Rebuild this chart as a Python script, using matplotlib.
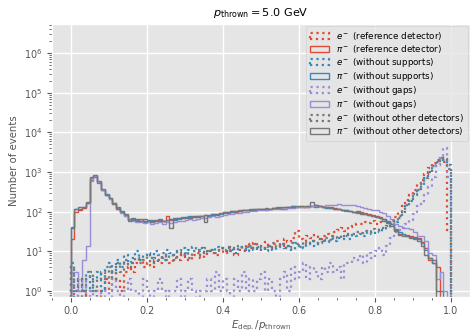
import numpy as np
import matplotlib
matplotlib.use("Agg")
import matplotlib.pyplot as plt

# Histogram binning of E_dep / p_thrown
bin_edges = np.linspace(0.0, 1.0, 101)

configs = ["reference detector", "without supports", "without gaps", "without other detectors"]
colors = ["#E24A33", "#348ABD", "#988ED5", "#777777"]

# Electron counts per bin
e_ref = [1, 0, 1, 1, 0, 1, 1, 0, 1, 2,
         1, 3, 2, 1, 3, 4, 3, 5, 6, 4,
         5, 4, 6, 5, 7, 6, 5, 7, 6, 8,
         7, 6, 8, 9, 7, 8, 10, 9, 8, 11,
         9, 10, 12, 8, 11, 10, 15, 12, 16, 14,
         12, 17, 13, 15, 18, 14, 20, 17, 22, 32,
         20, 18, 24, 22, 26, 20, 24, 28, 25, 30,
         34, 38, 32, 42, 45, 50, 48, 55, 52, 58,
         50, 55, 60, 52, 58, 75, 100, 140, 195, 260,
         360, 500, 650, 900, 1300, 1700, 2000, 2200, 1800, 35]
e_sup = [5, 0, 2, 1, 3, 1, 2, 3, 1, 4,
         5, 3, 6, 4, 8, 5, 7, 10, 6, 8,
         9, 7, 10, 8, 6, 11, 9, 8, 10, 12,
         9, 11, 13, 10, 12, 9, 11, 10, 13, 12,
         10, 12, 11, 9, 13, 12, 10, 14, 11, 13,
         12, 10, 14, 11, 13, 15, 12, 14, 11, 16,
         14, 12, 15, 18, 14, 16, 19, 17, 20, 18,
         22, 20, 24, 21, 26, 24, 28, 25, 30, 27,
         32, 30, 35, 38, 45, 55, 70, 95, 140, 190,
         260, 360, 480, 700, 1000, 1400, 1800, 2200, 2000, 1500]
e_gaps = [2, 1, 0, 2, 0, 1, 0, 1, 0, 1,
          0, 2, 1, 0, 1, 2, 1, 1, 0, 2,
          1, 0, 1, 2, 1, 0, 1, 1, 2, 0,
          1, 2, 1, 0, 1, 1, 2, 1, 3, 1,
          2, 1, 0, 2, 1, 3, 1, 2, 1, 2,
          3, 1, 2, 1, 0, 2, 3, 1, 4, 2,
          3, 5, 2, 4, 3, 2, 4, 3, 5, 3,
          4, 2, 5, 5, 7, 6, 8, 5, 9, 7,
          10, 12, 8, 14, 22, 30, 35, 38, 50, 62,
          90, 140, 160, 260, 420, 750, 1500, 2600, 4000, 750]
e_noother = [4, 1, 2, 0, 2, 3, 1, 2, 3, 2,
             4, 2, 5, 3, 6, 4, 5, 7, 5, 6,
             8, 5, 7, 6, 9, 7, 8, 6, 10, 8,
             9, 7, 10, 11, 8, 12, 10, 11, 9, 12,
             11, 13, 10, 12, 14, 11, 13, 12, 15, 13,
             11, 14, 12, 16, 13, 15, 14, 12, 16, 15,
             13, 17, 15, 18, 16, 20, 18, 22, 19, 24,
             22, 26, 24, 28, 27, 30, 29, 33, 31, 36,
             34, 38, 40, 45, 50, 60, 80, 110, 150, 210,
             280, 380, 520, 720, 1000, 1400, 1900, 2300, 2100, 1200]

# Pion counts per bin
pi_ref = [20, 100, 110, 125, 170, 650, 800, 560, 360, 270,
          220, 170, 125, 100, 85, 62, 66, 60, 64, 58,
          60, 58, 62, 58, 60, 80, 62, 66, 70, 68,
          72, 75, 78, 74, 80, 82, 78, 88, 85, 92,
          100, 95, 102, 98, 104, 108, 112, 110, 115, 118,
          120, 112, 118, 125, 122, 120, 130, 128, 140, 135,
          138, 130, 135, 140, 150, 138, 135, 128, 130, 122,
          118, 112, 110, 105, 100, 102, 96, 92, 88, 82,
          78, 72, 65, 58, 50, 34, 28, 27, 26, 24,
          23, 22, 17, 12, 6, 5, 4, 0, 0, 0]
pi_sup = [40, 120, 135, 128, 165, 720, 760, 540, 350, 280,
          215, 165, 128, 98, 80, 64, 62, 65, 60, 56,
          58, 62, 60, 64, 58, 62, 66, 62, 68, 72,
          70, 76, 74, 78, 76, 84, 80, 86, 90, 88,
          95, 100, 98, 106, 102, 110, 108, 114, 112, 118,
          115, 120, 118, 122, 128, 125, 120, 132, 138, 130,
          135, 128, 140, 136, 132, 140, 130, 126, 124, 118,
          115, 110, 108, 102, 98, 95, 92, 88, 84, 80,
          75, 70, 64, 56, 48, 36, 30, 28, 25, 23,
          22, 20, 16, 11, 7, 5, 1, 1, 0, 0]
pi_gaps = [3, 3, 1, 6, 14, 600, 780, 560, 360, 260,
           210, 160, 120, 95, 78, 62, 58, 55, 56, 52,
           54, 50, 52, 55, 50, 54, 52, 56, 58, 60,
           62, 64, 62, 66, 70, 68, 72, 76, 74, 80,
           84, 88, 90, 94, 92, 98, 100, 104, 102, 108,
           110, 112, 116, 114, 120, 122, 118, 126, 124, 130,
           128, 132, 130, 138, 136, 142, 140, 145, 150, 148,
           155, 152, 150, 148, 145, 140, 132, 125, 118, 112,
           108, 100, 92, 80, 65, 50, 44, 40, 38, 36,
           30, 25, 24, 18, 9, 8, 2, 3, 1, 0]
pi_noother = [42, 118, 120, 128, 180, 760, 820, 580, 370, 260,
              225, 160, 120, 102, 86, 60, 68, 62, 58, 66,
              62, 56, 60, 62, 58, 62, 40, 68, 64, 70,
              72, 70, 74, 76, 80, 55, 84, 82, 88, 92,
              96, 100, 105, 102, 108, 112, 110, 108, 116, 120,
              118, 124, 120, 126, 122, 130, 128, 135, 132, 140,
              136, 142, 138, 180, 150, 140, 132, 130, 125, 120,
              116, 112, 106, 104, 100, 96, 90, 86, 82, 78,
              72, 68, 60, 52, 44, 32, 26, 25, 24, 22,
              20, 18, 14, 8, 7, 6, 0, 0, 0, 0]

electrons = [e_ref, e_sup, e_gaps, e_noother]
pions = [pi_ref, pi_sup, pi_gaps, pi_noother]

plt.style.use("ggplot")

fig = plt.figure(figsize=(4.70, 3.32), dpi=100)
ax = fig.add_axes([51.5 / 470, 35 / 332, 418.5 / 470, 273 / 332])

centers = 0.5 * (bin_edges[:-1] + bin_edges[1:])
for cfg, col, e_counts, pi_counts in zip(configs, colors, electrons, pions):
    ax.hist(centers, bins=bin_edges, weights=e_counts, histtype="step",
            linestyle=":", linewidth=1.6, color=col, log=True,
            label=rf"$e^-$ ({cfg})")
    ax.hist(centers, bins=bin_edges, weights=pi_counts, histtype="step",
            linestyle="-", linewidth=1.0, color=col, log=True,
            label=rf"$\pi^-$ ({cfg})")

ax.set_xlim(-0.05, 1.05)
ax.set_ylim(0.71, 5.4e6)
ax.minorticks_on()
ax.grid(True, which="major", color="white", linewidth=1.0)
ax.grid(False, which="minor")
ax.tick_params(axis="both", which="major", labelsize=6.9, colors="#555555", pad=3)
ax.tick_params(axis="both", which="minor", colors="#555555")

ax.set_title(r"$p_\mathrm{thrown} = 5.0$ GeV", fontsize=8.1, color="black")
ax.set_xlabel(r"$E_\mathrm{dep.}/p_\mathrm{thrown}$", fontsize=7.4,
              color="#555555", labelpad=1.5)
ax.set_ylabel("Number of events", fontsize=7.3, color="#555555")

leg = ax.legend(loc="upper right", fontsize=6.3, handlelength=2.2,
                labelspacing=0.12, borderpad=0.45, borderaxespad=0.25,
                framealpha=0.8)
leg.get_frame().set_facecolor("#E5E5E5")
leg.get_frame().set_edgecolor("#CCCCCC")

fig.savefig("out.png", dpi=100)
